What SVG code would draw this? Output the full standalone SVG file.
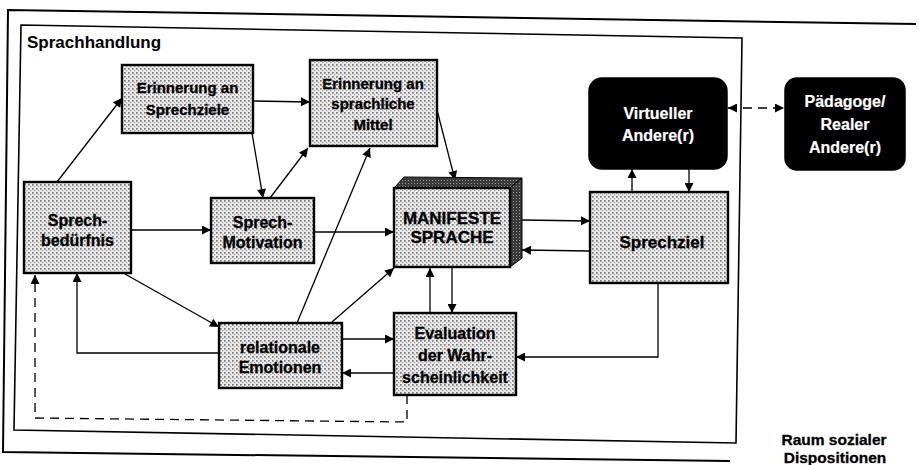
<svg xmlns="http://www.w3.org/2000/svg" width="919" height="465" viewBox="0 0 919 465">
<defs>
<pattern id="dots" width="4" height="4" patternUnits="userSpaceOnUse">
<rect width="4" height="4" fill="#ececec"/>
<rect x="0" y="0" width="1.7" height="1.7" fill="#7a7a7a"/>
<rect x="2" y="2" width="1.3" height="1.3" fill="#a0a0a0"/>
</pattern>
<pattern id="dark" width="3" height="3" patternUnits="userSpaceOnUse">
<rect width="3" height="3" fill="#3a3a3a"/>
<rect x="0" y="0" width="1" height="1" fill="#9a9a9a"/>
</pattern>
<marker id="ah" viewBox="0 0 10 10" refX="10" refY="5" markerWidth="11" markerHeight="9" markerUnits="userSpaceOnUse" orient="auto-start-reverse">
<path d="M0,0 L10,5 L0,10 z" fill="#000"/>
</marker>
</defs>
<style>
.box{fill:url(#dots);stroke:#000;stroke-width:2.4}
.blk{fill:#000;stroke:#000;stroke-width:1.5}
.t{font-family:"Liberation Sans",Arial,sans-serif;font-weight:bold;font-size:15px;text-anchor:middle;fill:#000;stroke:#000;stroke-width:0.3}
.w{fill:#fff;stroke:#fff;stroke-width:0.2;font-size:16px}
.c{fill:none;stroke:#000;stroke-width:1.3;marker-end:url(#ah)}
.d{fill:none;stroke:#000;stroke-width:1.3;stroke-dasharray:9 6}
.frame{fill:none;stroke:#000}
</style>
<rect width="919" height="465" fill="#fff"/>
<g id="frames">
<polyline class="frame" stroke-width="2" points="916,24 8,10 3,452 730,461"/>
<polygon class="frame" stroke-width="1.6" points="21,25 742,38 736,443 14,430"/>
<text x="27" y="48" style="font-family:'Liberation Sans',Arial,sans-serif;font-weight:bold;font-size:17px">Sprachhandlung</text>
<text class="t" x="834" y="445" style="font-size:15.5px">Raum sozialer</text>
<text class="t" x="835" y="463" style="font-size:15.5px">Dispositionen</text>
</g>
<g id="connectors">
<path class="c" d="M57,182 L122,98"/>
<path class="c" d="M253,101 L310,102"/>
<path class="c" d="M252,133 L263,198"/>
<path class="c" d="M270,198 L308,148"/>
<path class="c" d="M297,323 L370,148"/>
<path class="c" d="M437,110 L455,180"/>
<path class="c" d="M131,230 L211,230"/>
<path class="c" d="M314,232 L394,232"/>
<path class="c" d="M125,274 L219,327"/>
<path class="c" d="M219,353 L77,353 L77,273"/>
<path class="c" d="M332,322 L394,268"/>
<path class="c" d="M342,339 L394,339"/>
<path class="c" d="M394,373 L342,373"/>
<path class="c" d="M430,313 L430,268"/>
<path class="c" d="M452,267 L452,313"/>
<path class="c" d="M522,220 L590,221"/>
<path class="c" d="M590,251 L522,250"/>
<path class="c" d="M658,283 L658,357 L516,357"/>
<path class="c" d="M632,192 L632,169"/>
<path class="c" d="M689,169 L689,192"/>
<path class="d" d="M407,395 L407,422 L35,418 L35,275" marker-end="url(#ah)"/>
<path class="d" d="M728,108 L784,108" marker-start="url(#ah)" marker-end="url(#ah)"/>
</g>
<g id="sprechbeduerfnis">
<rect class="box" x="24" y="182" width="107" height="91"/>
<text class="t" x="77.5" y="226" style="font-size:16px">Sprech-</text>
<text class="t" x="77.5" y="246" style="font-size:16px">bedürfnis</text>
</g>
<g id="erinnerung-sprechziele">
<rect class="box" x="122" y="65" width="131" height="68"/>
<text class="t" x="187.5" y="93">Erinnerung an</text>
<text class="t" x="187.5" y="115">Sprechziele</text>
</g>
<g id="erinnerung-mittel">
<rect class="box" x="310" y="60" width="127" height="86"/>
<text class="t" x="373" y="89">Erinnerung an</text>
<text class="t" x="373" y="109">sprachliche</text>
<text class="t" x="373" y="130">Mittel</text>
</g>
<g id="sprech-motivation">
<rect class="box" x="211" y="198" width="103" height="65"/>
<text class="t" x="262.5" y="228" style="font-size:16px">Sprech-</text>
<text class="t" x="262.5" y="248" style="font-size:16px">Motivation</text>
</g>
<g id="manifeste-sprache">
<polygon points="394,188 404,177 522,178 510,188" fill="url(#dark)" stroke="#000" stroke-width="1"/>
<polygon points="510,188 522,178 522,258 510,267" fill="url(#dark)" stroke="#000" stroke-width="1"/>
<rect class="box" x="394" y="188" width="116" height="79"/>
<text class="t" x="452" y="224" style="font-size:17px">MANIFESTE</text>
<text class="t" x="452" y="243" style="font-size:17px">SPRACHE</text>
</g>
<g id="relationale-emotionen">
<rect class="box" x="219" y="323" width="123" height="65"/>
<text class="t" x="280" y="353" style="font-size:16px">relationale</text>
<text class="t" x="280" y="373" style="font-size:16px">Emotionen</text>
</g>
<g id="evaluation">
<rect class="box" x="394" y="313" width="122" height="82"/>
<text class="t" x="455" y="339" style="font-size:16px">Evaluation</text>
<text class="t" x="455" y="361" style="font-size:16px">der Wahr-</text>
<text class="t" x="455" y="383" style="font-size:16px">scheinlichkeit</text>
</g>
<g id="sprechziel">
<rect class="box" x="590" y="192" width="138" height="91"/>
<text class="t" x="662" y="248" style="font-size:17px">Sprechziel</text>
</g>
<g id="virtueller-andere">
<rect class="blk" x="589" y="78" width="138" height="91" rx="13"/>
<text class="t w" x="658" y="119">Virtueller</text>
<text class="t w" x="658" y="141">Andere(r)</text>
</g>
<g id="paedagoge">
<rect class="blk" x="785" y="78" width="120" height="92" rx="12"/>
<text class="t w" x="845" y="107">Pädagoge/</text>
<text class="t w" x="845" y="130">Realer</text>
<text class="t w" x="845" y="153">Andere(r)</text>
</g>
</svg>
